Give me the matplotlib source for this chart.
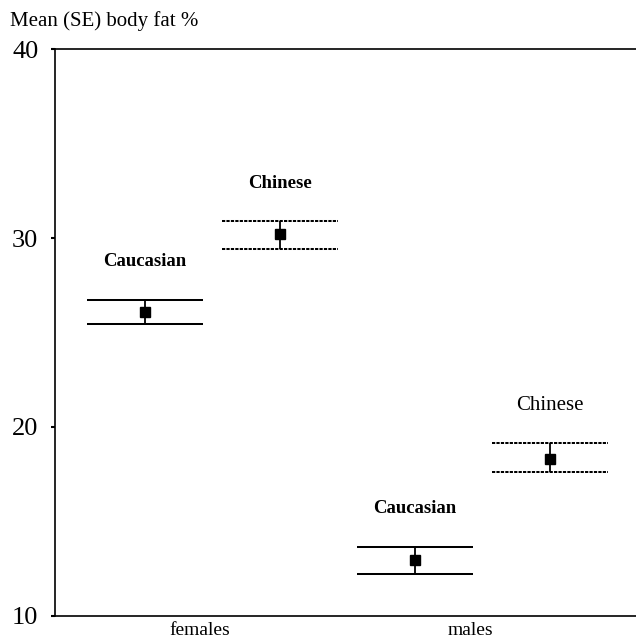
import numpy as np
import matplotlib
matplotlib.use("Agg")
import matplotlib.pyplot as plt

plt.rcParams['font.family'] = ['Liberation Serif', 'DejaVu Serif']

groups = ['females', 'males']
ethnicity = ['Caucasian', 'Chinese', 'Caucasian', 'Chinese']
means = [26.10, 30.23, 12.92, 18.29]
upper = [26.72, 30.88, 13.63, 19.12]
lower = [25.45, 29.43, 12.18, 17.58]

x = np.arange(len(means))
half = 0.43

fig = plt.figure(figsize=(6.36, 6.42), dpi=100)
ax = fig.add_axes([55 / 636, 1 - 615.5 / 642, 1 - 55 / 636, (615.5 - 49.4) / 642])

for i in x:
    ls = '-' if ethnicity[i] == 'Caucasian' else (0, (1.6, 0.6))
    ax.hlines([upper[i], lower[i]], i - half, i + half, colors='black',
              linestyles=[ls], linewidth=1.45)
    ax.vlines(i, lower[i], upper[i], colors='black', linewidth=1.3)
    ax.plot(i, means[i], marker='s', color='black', markersize=6.5, linestyle='none')
    weight = 'normal' if i == 3 else 'bold'
    ax.annotate(ethnicity[i], (i, upper[i]), xytext=(0, 27.5), textcoords='offset points',
                ha='center', va='center', fontsize=13.5 if weight == 'bold' else 15,
                fontweight=weight)

ax.set_xlim(-0.667, 3.637)
ax.set_ylim(10, 40)
ax.set_yticks([10, 20, 30, 40])
ax.set_xticks([0.407, 2.407])
ax.set_xticklabels(groups)

ax.spines['right'].set_visible(False)
for s in ['left', 'top', 'bottom']:
    ax.spines[s].set_linewidth(1.2)
ax.tick_params(axis='y', direction='out', length=3, width=1.5, pad=9, labelsize=19)
ax.tick_params(axis='x', length=0, pad=5, labelsize=14)

fig.text(10 / 636, 1 - 21 / 642, 'Mean (SE) body fat %', fontsize=15, va='center', ha='left')

fig.savefig('out.png', dpi=100)
